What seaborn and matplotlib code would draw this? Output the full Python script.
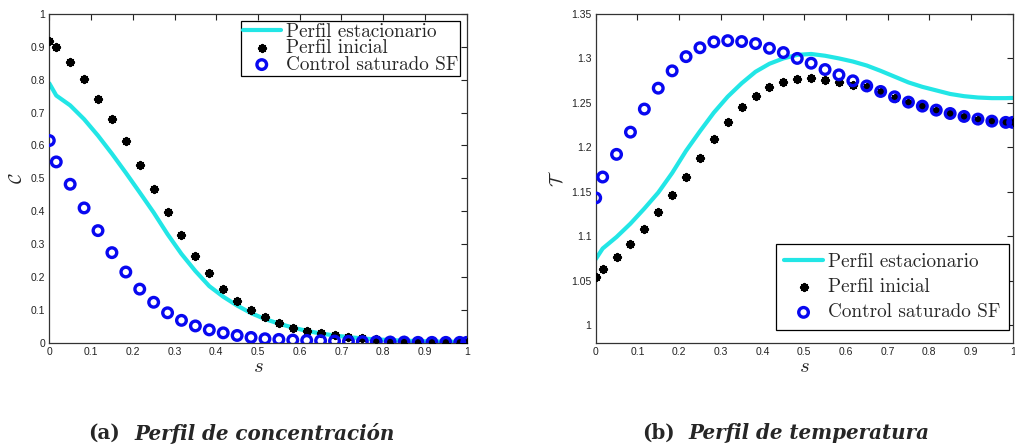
import numpy as np
import pandas as pd
import matplotlib
matplotlib.use('Agg')
import matplotlib.pyplot as plt
import seaborn as sns

# -----------------------------
# Data
# -----------------------------
s_nodes = [0, 1/60, 3/60, 5/60, 7/60, 9/60, 11/60, 13/60, 15/60, 17/60, 19/60,
           21/60, 23/60, 25/60, 27/60, 29/60, 31/60, 33/60, 35/60, 37/60, 39/60,
           41/60, 43/60, 45/60, 47/60, 49/60, 51/60, 53/60, 55/60, 57/60, 59/60, 1]

# concentration
c_estacionario = [0.789, 0.752, 0.722, 0.680, 0.630, 0.575, 0.517, 0.457, 0.396, 0.330,
                  0.270, 0.218, 0.172, 0.140, 0.113, 0.090, 0.072, 0.058, 0.046, 0.036,
                  0.028, 0.022, 0.017, 0.013, 0.010, 0.008, 0.006, 0.005, 0.004, 0.003,
                  0.003, 0.003]
c_inicial = [0.919, 0.901, 0.854, 0.801, 0.742, 0.681, 0.613, 0.542, 0.469, 0.397,
             0.328, 0.265, 0.211, 0.164, 0.128, 0.098, 0.077, 0.059, 0.046, 0.037,
             0.029, 0.024, 0.018, 0.014, 0.011, 0.009, 0.007, 0.005, 0.004, 0.003,
             0.002, 0.002]
c_control = [0.615, 0.550, 0.482, 0.410, 0.341, 0.274, 0.215, 0.163, 0.123, 0.091,
             0.068, 0.051, 0.039, 0.030, 0.022, 0.016, 0.012, 0.010, 0.008, 0.007,
             0.006, 0.005, 0.004, 0.003, 0.003, 0.002, 0.002, 0.001, 0.001, 0.001,
             0.001, 0.001]

# temperature
t_estacionario = [1.074, 1.086, 1.099, 1.114, 1.131, 1.149, 1.171, 1.196, 1.218, 1.239,
                  1.257, 1.272, 1.285, 1.294, 1.300, 1.304, 1.305, 1.303, 1.300, 1.2965,
                  1.292, 1.286, 1.2795, 1.273, 1.268, 1.264, 1.260, 1.2575, 1.256, 1.2553,
                  1.2553, 1.2555]
t_inicial = [1.054, 1.063, 1.076, 1.091, 1.108, 1.127, 1.146, 1.167, 1.188, 1.209,
             1.228, 1.245, 1.258, 1.268, 1.274, 1.277, 1.278, 1.276, 1.273, 1.270,
             1.268, 1.262, 1.256, 1.250, 1.246, 1.241, 1.238, 1.234, 1.231, 1.229,
             1.228, 1.228]
t_control = [1.143, 1.1665, 1.192, 1.217, 1.243, 1.2665, 1.286, 1.302, 1.312, 1.3186,
             1.320, 1.319, 1.3167, 1.3114, 1.3066, 1.300, 1.2946, 1.2875, 1.2815, 1.2748,
             1.269, 1.2628, 1.2568, 1.2508, 1.2463, 1.2418, 1.238, 1.2347, 1.2317, 1.2294,
             1.228, 1.228]

labels = ['Perfil estacionario', 'Perfil inicial', 'Control saturado SF']
captions = [('(a)', 'Perfil de concentración'), ('(b)', 'Perfil de temperatura')]

df_c = pd.DataFrame({'s': s_nodes, 'est': c_estacionario, 'ini': c_inicial, 'ctl': c_control})
df_t = pd.DataFrame({'s': s_nodes, 'est': t_estacionario, 'ini': t_inicial, 'ctl': t_control})

# -----------------------------
# Style
# -----------------------------
sns.set_style('white')
plt.rcParams['mathtext.fontset'] = 'cm'
plt.rcParams['font.family'] = ['Liberation Sans', 'DejaVu Sans']

CYAN = '#22e6e6'
BLUE = '#0808f0'

fig = plt.figure(figsize=(10.15, 4.48), dpi=100)
W, H = 1015, 448
ax1 = fig.add_axes([49.3 / W, 1 - 342.7 / H, 417.4 / W, 328.7 / H])
ax2 = fig.add_axes([595.7 / W, 1 - 342.7 / H, 417.0 / W, 328.7 / H])


def draw(ax, df):
    sns.lineplot(data=df, x='s', y='est', ax=ax, color=CYAN, linewidth=3.0,
                 label=labels[0], zorder=2)
    sns.scatterplot(data=df, x='s', y='ini', ax=ax, marker=(8, 2, 0), color='black',
                    s=24, linewidth=1.8, label=labels[1], zorder=3)
    sns.scatterplot(data=df, x='s', y='ctl', ax=ax, marker='o', facecolor='none',
                    edgecolor=BLUE, s=48, linewidth=2.4, label=labels[2], zorder=4)
    ax.set_xlim(0, 1)
    ax.set_xticks(np.arange(0, 1.01, 0.1))
    ax.set_xticklabels(['0'] + [f'{v:.1f}' for v in np.arange(0.1, 0.95, 0.1)] + ['1'])
    ax.tick_params(direction='in', length=4, width=0.8, top=True, right=True,
                   labelsize=7.5, pad=3, colors='#222222')
    for sp in ax.spines.values():
        sp.set_color('#333333')
        sp.set_linewidth(0.9)
    ax.set_xlabel(r'$s$', fontsize=15, labelpad=0)


draw(ax1, df_c)
ax1.set_ylim(0, 1)
ax1.set_yticks(np.arange(0, 1.01, 0.1))
ax1.set_yticklabels(['0'] + [f'{v:.1f}' for v in np.arange(0.1, 0.95, 0.1)] + ['1'])
ax1.set_ylabel(r'$\mathcal{C}$', fontsize=13, labelpad=3)

draw(ax2, df_t)
ax2.set_ylim(0.98, 1.35)
ax2.set_yticks([1, 1.05, 1.1, 1.15, 1.2, 1.25, 1.3, 1.35])
ax2.set_yticklabels(['1', '1.05', '1.1', '1.15', '1.2', '1.25', '1.3', '1.35'])
ax2.set_ylabel(r'$\mathcal{T}$', fontsize=13, labelpad=3)

leg_kw = dict(prop={'family': 'cmr10', 'size': 13.8}, frameon=True, fancybox=False,
              framealpha=1, edgecolor='black', handlelength=2.0, handletextpad=0.25,
              borderaxespad=0)
lg1 = ax1.legend(loc='upper right', bbox_to_anchor=((460 - 49.3) / 417.4, (342.7 - 21) / 328.7),
                 labelspacing=-0.08, borderpad=0.1, **leg_kw)
lg2 = ax2.legend(loc='lower right', bbox_to_anchor=((1008.5 - 595.7) / 417.0, (342.7 - 330) / 328.7),
                 labelspacing=0.38, borderpad=0.45, **leg_kw)
for lg in (lg1, lg2):
    lg.get_frame().set_linewidth(0.9)

# captions
for (tag, txt), x0 in zip(captions, [88, 642]):
    fig.text(x0 / W, 1 - 433 / H, tag, family='DejaVu Serif', weight='bold',
             fontsize=14.3, va='center', ha='left')
    fig.text((x0 + 46) / W, 1 - 433 / H, txt, family='DejaVu Serif', weight='bold',
             style='italic', fontsize=14.3, va='center', ha='left')

fig.savefig('out.png', dpi=100)
